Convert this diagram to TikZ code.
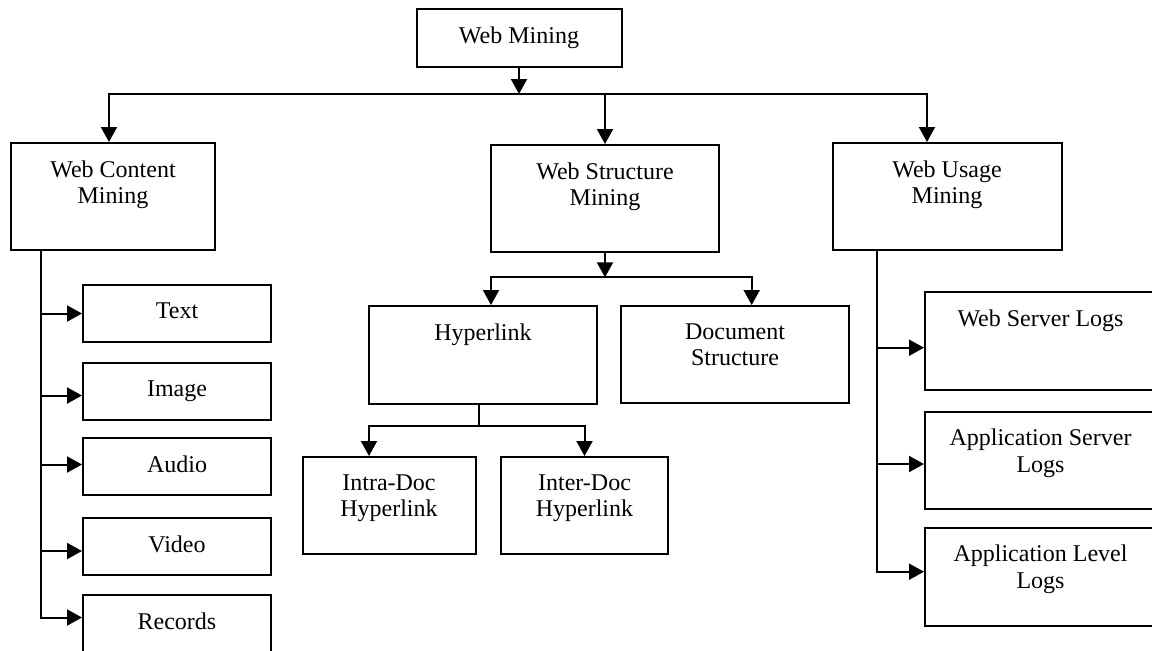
\documentclass[tikz,border=0pt]{standalone}
\usepackage{fontspec}
\setmainfont{Liberation Serif}
\usetikzlibrary{arrows.meta}

\begin{document}
\begin{tikzpicture}[x=0.5pt, y=-0.5pt,
        box/.style={draw, line width=1pt, inner sep=0pt},
        lbl/.style={anchor=north, inner sep=0pt, yshift=-9pt, align=center,
            font=\fontsize{12}{13.4}\selectfont},
        arr/.style={-{Triangle[length=7.5pt, width=8pt]}, line width=1pt}]
                \useasboundingbox (0,0) rectangle (1152,650);
                \clip (0,0) rectangle (1152,650);

                % top level
                \node[box, minimum width=102.5pt, minimum height=29pt, label={[lbl]north:Web Mining}] (web) at (519,38) {};
                \node[box, minimum width=102pt, minimum height=53.5pt, label={[lbl]north:{Web Content\\Mining}}] (content) at (113,196.5) {};
                \node[box, minimum width=114pt, minimum height=53.5pt, label={[lbl]north:{Web Structure\\Mining}}] (struct) at (605,198.5) {};
                \node[box, minimum width=114.5pt, minimum height=53.5pt, label={[lbl]north:{Web Usage\\Mining}}] (usage) at (947,196.5) {};

                % content mining
                \node[box, minimum width=94pt, minimum height=28.5pt, label={[lbl]north:Text}] (text) at (177,313.5) {};
                \node[box, minimum width=94pt, minimum height=28.5pt, label={[lbl]north:Image}] (image) at (177,391.5) {};
                \node[box, minimum width=94pt, minimum height=28.5pt, label={[lbl]north:Audio}] (audio) at (177,466.5) {};
                \node[box, minimum width=94pt, minimum height=28.5pt, label={[lbl]north:Video}] (video) at (177,546.5) {};
                \node[box, minimum width=94pt, minimum height=28.5pt, label={[lbl]north:Records}] (records) at (177,623.5) {};

                % structure mining
                \node[box, minimum width=114pt, minimum height=49pt, label={[lbl]north:Hyperlink}] (hyper) at (483,355) {};
                \node[box, minimum width=114pt, minimum height=48.5pt, label={[lbl]north:{Document\\Structure}}] (docstruct) at (735,354.5) {};
                \node[box, minimum width=86.5pt, minimum height=48.5pt, label={[lbl]north:{Intra-Doc\\Hyperlink}}] (intra) at (389,505.5) {};
                \node[box, minimum width=83.5pt, minimum height=48.5pt, label={[lbl]north:{Inter-Doc\\Hyperlink}}] (inter) at (584.5,505.5) {};

                % usage mining
                \node[box, minimum width=115.5pt, minimum height=49pt, label={[lbl]north:Web Server Logs}] (wslogs) at (1040.5,341) {};
                \node[box, minimum width=115.5pt, minimum height=48.5pt, label={[lbl]north:{Application Server\\Logs}}] (aslogs) at (1040.5,460) {};
                \node[box, minimum width=115.5pt, minimum height=49pt, label={[lbl]north:{Application Level\\Logs}}] (allogs) at (1040.5,576.5) {};

                \coordinate (bus) at (519,94);
                \coordinate (sbus) at (605,277.3);
                \coordinate (hbus) at (479.3,426);
                \coordinate (cspine) at (41,250);
                \coordinate (uspine) at (877,250);

                \draw[arr] (web.south) -- (bus);
                \draw[arr] (bus) -| ([xshift=-2pt]content.north);
                \draw[arr] (bus) -| (struct.north);
                \draw[arr] (bus) -| ([xshift=-10pt]usage.north);

                \draw[arr] (cspine) |- (text.west);
                \draw[arr] (cspine) |- ([yshift=-2pt]image.west);
                \draw[arr] (cspine) |- ([yshift=1pt]audio.west);
                \draw[arr] (cspine) |- ([yshift=-2.25pt]video.west);
                \draw[arr] (cspine) |- ([yshift=3pt]records.west);

                \draw[arr] (struct.south) -- (sbus);
                \draw[arr] (sbus) -| ([xshift=4pt]hyper.north);
                \draw[arr] (sbus) -| ([xshift=8.35pt]docstruct.north);
                \draw[line width=1pt] (hyper.south -| hbus) -- (hbus);
                \draw[arr] (hbus) -| ([xshift=-10pt]intra.north);
                \draw[arr] (hbus) -| (inter.north);

                \draw[arr] (uspine) |- ([yshift=-3.35pt]wslogs.west);
                \draw[arr] (uspine) |- ([yshift=-2pt]aslogs.west);
                \draw[arr] (uspine) |- ([yshift=2.4pt]allogs.west);
            \end{tikzpicture}
\end{document}
